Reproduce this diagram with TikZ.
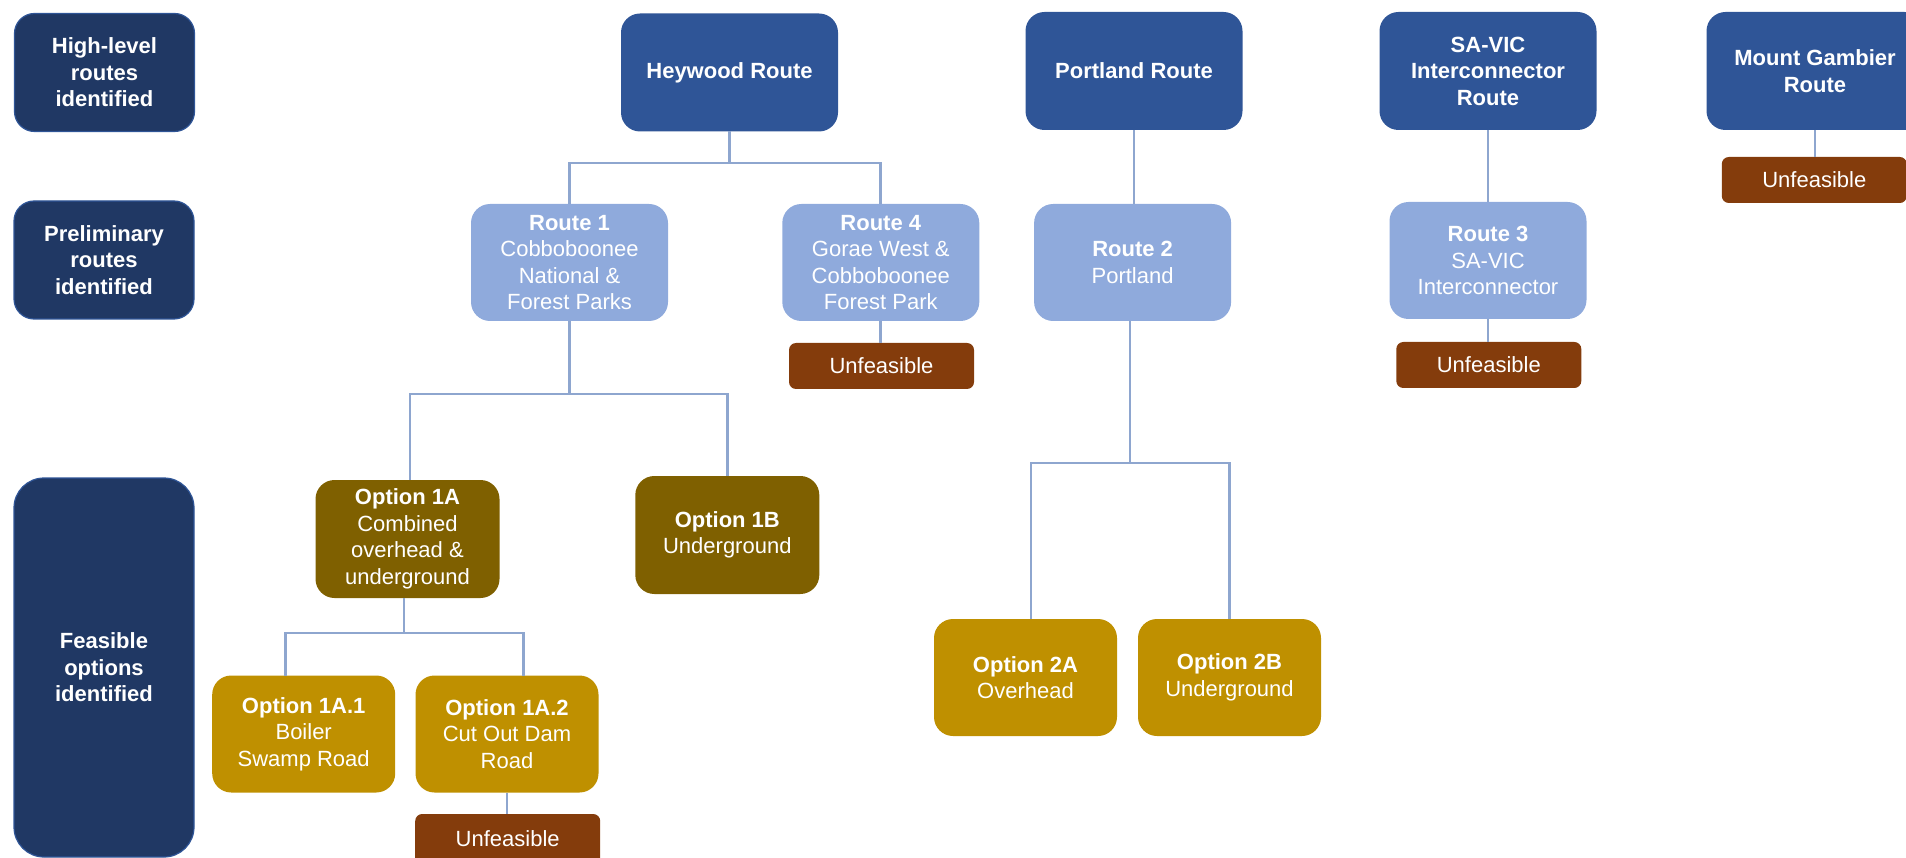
\documentclass[tikz,border=0pt]{standalone}
\usepackage{fontspec}
\setmainfont{Liberation Sans}
\definecolor{navy}{HTML}{203864}
\definecolor{navyedge}{HTML}{2F5597}
\definecolor{topblue}{HTML}{2F5597}
\definecolor{midblue}{HTML}{8FAADC}
\definecolor{unfeas}{HTML}{843C0C}
\definecolor{optdark}{HTML}{7F6000}
\definecolor{optlight}{HTML}{BF9000}
\definecolor{linec}{HTML}{8EA6CF}
\begin{document}
\begin{tikzpicture}[x=1pt,y=-1pt,
  bx/.style={inner sep=0pt, outer sep=0pt, align=center, text=white,
    font=\fontsize{22}{26.5}\selectfont},
  lbl/.style={bx, fill=navy, draw=navyedge, line width=1.2pt, rounded corners=20pt,
    minimum width=180pt, minimum height=118pt, font=\fontsize{22}{26.5}\selectfont\bfseries},
  topbox/.style={bx, fill=topblue, rounded corners=19pt, minimum width=217pt,
    minimum height=118pt, font=\fontsize{22}{26.5}\selectfont\bfseries},
  midbox/.style={bx, fill=midblue, rounded corners=19pt, minimum width=197pt,
    minimum height=117pt},
  unfbox/.style={bx, fill=unfeas, rounded corners=7pt, minimum width=185pt,
    minimum height=46pt},
  optd/.style={bx, fill=optdark, rounded corners=19pt, minimum width=184pt,
    minimum height=118pt},
  optl/.style={bx, fill=optlight, rounded corners=19pt, minimum width=183pt,
    minimum height=117pt},
  conn/.style={draw=linec, line width=2.8pt}
]
\useasboundingbox (0,0) rectangle (1906,858);

% left column labels
\node[lbl] (hl) at (104.5,72.5) {High-level\\routes\\identified};
\node[lbl] (pr) at (104,260) {Preliminary\\routes\\identified};
\node[lbl, minimum height=379pt, rounded corners=30pt] (fe) at (104,667.5) {Feasible\\options\\identified};

% high-level routes
\node[topbox] (hey) at (729.5,72.5) {Heywood Route};
\node[topbox] (port) at (1134,71) {Portland Route};
\node[topbox] (savic) at (1488,71) {SA-VIC\\Interconnector\\Route};
\node[topbox] (mg) at (1815,71) {Mount Gambier\\Route};

% preliminary routes
\node[midbox] (r1) at (569.5,262.5) {\textbf{Route 1}\\Cobboboonee\\National \&\\Forest Parks};
\node[midbox] (r4) at (880.8,262.5) {\textbf{Route 4}\\Gorae West \&\\Cobboboonee\\Forest Park};
\node[midbox] (r2) at (1132.6,262.5) {\textbf{Route 2}\\Portland};
\node[midbox] (r3) at (1488,260.5) {\textbf{Route 3}\\SA-VIC\\Interconnector};

% unfeasible
\node[unfbox] (u4) at (881.5,366) {Unfeasible};
\node[unfbox] (u3) at (1488.8,365) {Unfeasible};
\node[unfbox] (umg) at (1814.3,180) {Unfeasible};

% options
\node[optd] (o1a) at (407.5,539) {\textbf{Option 1A}\\Combined\\overhead \&\\underground};
\node[optd] (o1b) at (727.3,535) {\textbf{Option 1B}\\Underground};
\node[optl] (o1a1) at (303.7,734) {\textbf{Option 1A.1}\\Boiler\\Swamp Road};
\node[optl] (o1a2) at (507,734) {\textbf{Option 1A.2}\\Cut Out Dam\\Road};
\node[unfbox, minimum height=52pt, anchor=north] (u1a2) at (507.7,814) {\raisebox{3pt}{Unfeasible}};
\node[optl] (o2a) at (1025.5,677.5) {\textbf{Option 2A}\\Overhead};
\node[optl] (o2b) at (1229.5,677.5) {\textbf{Option 2B}\\Underground};

% junctions
\coordinate (jh) at (728,163);
\coordinate (j1) at (569,394);
\coordinate (j1a) at (404,633);
\coordinate (j2) at (1130,463);

% connectors
\draw[conn] (hey.south) -- (hey.south |- jh);
\draw[conn] (r1.north) |- (jh) -| (r4.north);
\draw[conn] (port.south) -- (port.south |- r2.north);
\draw[conn] (savic.south) -- (savic.south |- r3.north);
\draw[conn] (mg.south) -- (mg.south |- umg.north);
\draw[conn] (r4.south) -- (r4.south |- u4.north);
\draw[conn] (r3.south) -- (r3.south |- u3.north);
\draw[conn] (r1.south) -- (r1.south |- j1);
\draw[conn] ([xshift=2.5pt]o1a.north) |- (j1) -| (o1b.north);
\draw[conn] ([xshift=-3.5pt]o1a.south) -- ([xshift=-3.5pt]o1a.south |- j1a);
\draw[conn] ([xshift=-18pt]o1a1.north) |- (j1a) -| ([xshift=16.5pt]o1a2.north);
\draw[conn] (o1a2.south) -- (o1a2.south |- u1a2.north);
\draw[conn] ([xshift=-2.6pt]r2.south) -- ([xshift=-2.6pt]r2.south |- j2);
\draw[conn] ([xshift=5.5pt]o2a.north) |- (j2) -| (o2b.north);
\end{tikzpicture}
\end{document}
